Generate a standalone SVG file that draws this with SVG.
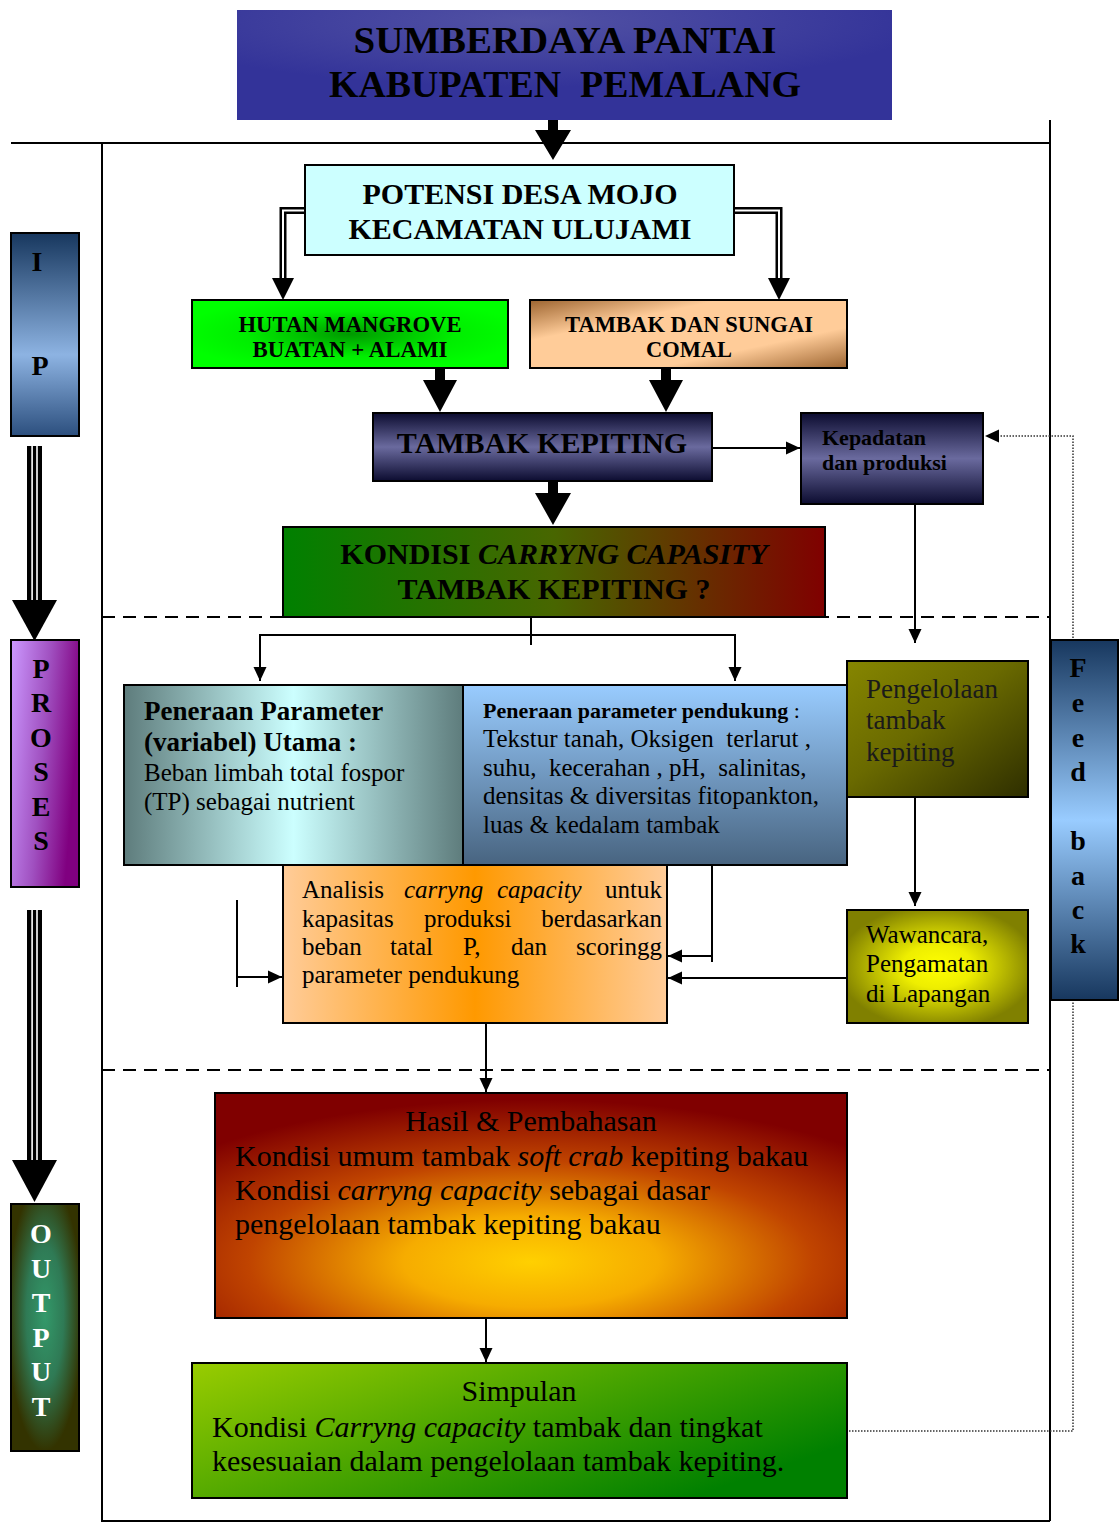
<svg xmlns="http://www.w3.org/2000/svg" width="1119" height="1522" viewBox="0 0 1119 1522">
<defs>
<style>
text{font-family:"Liberation Serif","Times New Roman",serif;fill:#000;white-space:pre}
.b{font-weight:bold}
.i{font-style:italic}
.box{stroke:#000;stroke-width:2}
.ln{fill:none;stroke:#000;stroke-width:2}
.dash{fill:none;stroke:#000;stroke-width:2;stroke-dasharray:13 8}
.fr{fill:none;stroke:#000;stroke-width:2}
.dot{fill:none;stroke:#333;stroke-width:1.5;stroke-dasharray:1.5 1.5}
.thick{fill:#000}
.mid{text-anchor:middle}
.end{text-anchor:end}
</style>
<marker id="ah" markerUnits="userSpaceOnUse" markerWidth="14" markerHeight="14" refX="14" refY="7" orient="auto">
<path d="M0,0.5 L14,7 L0,13.5 z" fill="#000"/>
</marker>
<radialGradient id="gTitle" cx="0.45" cy="0.1" r="0.6">
<stop offset="0" stop-color="#5252a4"/><stop offset="1" stop-color="#333399"/>
</radialGradient>
<radialGradient id="gHutan" cx="0.5" cy="0.5" r="0.55">
<stop offset="0" stop-color="#009900"/><stop offset="0.6" stop-color="#00ee00"/><stop offset="1" stop-color="#00ff00"/>
</radialGradient>
<linearGradient id="gSungai" x1="0" y1="0" x2="1" y2="1">
<stop offset="0" stop-color="#9c6430"/><stop offset="0.3" stop-color="#ffcc99"/><stop offset="0.7" stop-color="#ffcc99"/><stop offset="1" stop-color="#9c6430"/>
</linearGradient>
<linearGradient id="gNavy" x1="0" y1="0" x2="0" y2="1">
<stop offset="0" stop-color="#0c0c30"/><stop offset="0.5" stop-color="#6a6a9e"/><stop offset="1" stop-color="#0c0c30"/>
</linearGradient>
<linearGradient id="gKondisi" x1="0" y1="0" x2="1" y2="0">
<stop offset="0" stop-color="#008000"/><stop offset="0.5" stop-color="#486600"/><stop offset="1" stop-color="#800000"/>
</linearGradient>
<linearGradient id="gUtama" x1="0" y1="0" x2="1" y2="0">
<stop offset="0" stop-color="#5e7c7c"/><stop offset="0.5" stop-color="#ccffff"/><stop offset="1" stop-color="#5e7c7c"/>
</linearGradient>
<linearGradient id="gPendukung" x1="0" y1="0" x2="0" y2="1">
<stop offset="0" stop-color="#99ccff"/><stop offset="1" stop-color="#486480"/>
</linearGradient>
<linearGradient id="gKelola" x1="0" y1="0" x2="1" y2="1">
<stop offset="0" stop-color="#868600"/><stop offset="0.45" stop-color="#6a6a00"/><stop offset="1" stop-color="#2e2e00"/>
</linearGradient>
<radialGradient id="gWawan" cx="0.5" cy="0.5" r="0.55">
<stop offset="0" stop-color="#ffff00"/><stop offset="0.35" stop-color="#eeee00"/><stop offset="1" stop-color="#808000"/>
</radialGradient>
<linearGradient id="gAnalisis" x1="0" y1="0" x2="1" y2="0">
<stop offset="0" stop-color="#ffcc99"/><stop offset="0.5" stop-color="#ff9900"/><stop offset="1" stop-color="#ffcc99"/>
</linearGradient>
<radialGradient id="gHasil" cx="0.5" cy="0.75" r="0.72">
<stop offset="0" stop-color="#ffd000"/><stop offset="0.28" stop-color="#f6ac00"/><stop offset="0.62" stop-color="#c04400"/><stop offset="1" stop-color="#800000"/>
</radialGradient>
<linearGradient id="gSimpulan" x1="0" y1="0" x2="1" y2="0.6">
<stop offset="0" stop-color="#99cc00"/><stop offset="1" stop-color="#008000"/>
</linearGradient>
<linearGradient id="gFeed" x1="0" y1="0" x2="0" y2="1">
<stop offset="0" stop-color="#17375e"/><stop offset="0.5" stop-color="#99ccff"/><stop offset="1" stop-color="#17375e"/>
</linearGradient>
<linearGradient id="gIP" x1="0" y1="0" x2="0" y2="1">
<stop offset="0" stop-color="#17375e"/><stop offset="0.6" stop-color="#8db3e2"/><stop offset="1" stop-color="#2c4f7e"/>
</linearGradient>
<linearGradient id="gProses" x1="0" y1="0" x2="1" y2="0.3">
<stop offset="0" stop-color="#cc99ff"/><stop offset="0.55" stop-color="#a050c0"/><stop offset="1" stop-color="#800080"/>
</linearGradient>
<radialGradient id="gOutput" cx="0.5" cy="0.45" r="0.55">
<stop offset="0" stop-color="#33996a"/><stop offset="0.5" stop-color="#2f7a55"/><stop offset="1" stop-color="#333300"/>
</radialGradient>
</defs>

<g id="frame">
<path class="fr" d="M11,143 H1050"/>
<path class="fr" d="M102,143 V1522"/>
<path class="fr" d="M1050,120 V1521"/>
<path class="fr" d="M102,1521 H1050"/>
<path class="dash" d="M102,617 H1050"/>
<path class="dash" d="M102,1070 H1050"/>
</g>

<g id="connectors">
<path class="thick" d="M548,118 H558 V130 H571 L553,160 L535,130 H548 Z"/>
<path class="thick" d="M435,368 H445 V380 H457 L440,412 L423,380 H435 Z"/>
<path class="thick" d="M661,368 H671 V380 H683 L666,412 L649,380 H661 Z"/>
<path class="thick" d="M548,481 H558 V493 H571 L553,525 L535,493 H548 Z"/>
<path d="M305,210.5 H283 V280" fill="none" stroke="#000" stroke-width="7"/>
<path d="M305,210.5 H283 V280" fill="none" stroke="#fff" stroke-width="2"/>
<path class="thick" d="M272,278 H294 L283,300 Z"/>
<path d="M734,210.5 H779 V280" fill="none" stroke="#000" stroke-width="7"/>
<path d="M734,210.5 H779 V280" fill="none" stroke="#fff" stroke-width="2"/>
<path class="thick" d="M768,278 H790 L779,300 Z"/>
<rect x="27" y="446" width="15" height="156" fill="#000"/>
<rect x="31.3" y="446" width="1.6" height="156" fill="#fff"/>
<rect x="36.2" y="446" width="1.6" height="156" fill="#fff"/>
<path class="thick" d="M12,600 H57 L34.5,641 Z"/>
<rect x="27" y="910" width="15" height="252" fill="#000"/>
<rect x="31.3" y="910" width="1.6" height="252" fill="#fff"/>
<rect x="36.2" y="910" width="1.6" height="252" fill="#fff"/>
<path class="thick" d="M12,1160 H57 L34.5,1202 Z"/>
<path class="ln" d="M712,448 H800" marker-end="url(#ah)"/>
<path class="ln" d="M915,504 V643" marker-end="url(#ah)"/>
<path class="ln" d="M531,617 V645"/>
<path class="ln" d="M260,635 H735"/>
<path class="ln" d="M260,634 V681" marker-end="url(#ah)"/>
<path class="ln" d="M735,634 V681" marker-end="url(#ah)"/>
<path class="ln" d="M915,797 V906" marker-end="url(#ah)"/>
<path class="ln" d="M712,865 V962"/>
<path class="ln" d="M713,956 H668" marker-end="url(#ah)"/>
<path class="ln" d="M847,978 H668" marker-end="url(#ah)"/>
<path class="ln" d="M237,900 V987"/>
<path class="ln" d="M237,977 H282" marker-end="url(#ah)"/>
<path class="ln" d="M486,1023 V1092" marker-end="url(#ah)"/>
<path class="ln" d="M486,1318 V1362" marker-end="url(#ah)"/>
<path class="dot" d="M849,1431 H1073 V436 H996"/>
<path d="M985,436 L999,429.5 L999,442.5 Z" fill="#000"/>
</g>

<g id="node-title">
<rect x="237" y="10" width="655" height="110" fill="url(#gTitle)"/>
<text class="b mid" x="565" y="53" font-size="37" textLength="423" lengthAdjust="spacingAndGlyphs">SUMBERDAYA PANTAI</text>
<text class="b mid" x="565" y="97" font-size="37" textLength="472" lengthAdjust="spacingAndGlyphs">KABUPATEN  PEMALANG</text>
</g>

<g id="node-potensi">
<rect class="box" x="305" y="165" width="429" height="90" fill="#ccffff"/>
<text class="b mid" x="520" y="204" font-size="30">POTENSI DESA MOJO</text>
<text class="b mid" x="520" y="239" font-size="30">KECAMATAN ULUJAMI</text>
</g>

<g id="node-hutan">
<rect class="box" x="192" y="300" width="316" height="68" fill="url(#gHutan)"/>
<text class="b mid" x="350" y="332" font-size="24" textLength="223" lengthAdjust="spacingAndGlyphs">HUTAN MANGROVE</text>
<text class="b mid" x="350" y="357" font-size="24" textLength="195" lengthAdjust="spacingAndGlyphs">BUATAN + ALAMI</text>
</g>

<g id="node-sungai">
<rect class="box" x="530" y="300" width="317" height="68" fill="url(#gSungai)"/>
<text class="b mid" x="689" y="332" font-size="24" textLength="248" lengthAdjust="spacingAndGlyphs">TAMBAK DAN SUNGAI</text>
<text class="b mid" x="689" y="357" font-size="24" textLength="86" lengthAdjust="spacingAndGlyphs">COMAL</text>
</g>

<g id="node-tambak-kepiting">
<rect class="box" x="373" y="413" width="339" height="68" fill="url(#gNavy)"/>
<text class="b mid" x="542" y="453" font-size="30">TAMBAK KEPITING</text>
</g>

<g id="node-kepadatan">
<rect class="box" x="801" y="413" width="182" height="91" fill="url(#gNavy)"/>
<text class="b" x="822" y="445" font-size="22">Kepadatan</text>
<text class="b" x="822" y="470" font-size="22">dan produksi</text>
</g>

<g id="node-kondisi">
<rect class="box" x="283" y="527" width="542" height="90" fill="url(#gKondisi)"/>
<text class="b mid" x="554" y="564" font-size="30">KONDISI <tspan class="i">CARRYNG CAPASITY</tspan></text>
<text class="b mid" x="554" y="599" font-size="30">TAMBAK KEPITING ?</text>
</g>

<g id="node-utama">
<rect class="box" x="124" y="685" width="339" height="180" fill="url(#gUtama)"/>
<text class="b" x="144" y="720" font-size="27">Peneraan Parameter</text>
<text class="b" x="144" y="751" font-size="27">(variabel) Utama :</text>
<text x="144" y="781" font-size="25">Beban limbah total fospor</text>
<text x="144" y="810" font-size="25">(TP) sebagai nutrient</text>
</g>

<g id="node-pendukung">
<rect class="box" x="463" y="685" width="384" height="180" fill="url(#gPendukung)"/>
<text x="483" y="718" font-size="22"><tspan class="b">Peneraan parameter pendukung</tspan> :</text>
<text x="483" y="747" font-size="25">Tekstur tanah, Oksigen  terlarut ,</text>
<text x="483" y="776" font-size="25">suhu,  kecerahan , pH,  salinitas,</text>
<text x="483" y="804" font-size="25">densitas &amp; diversitas fitopankton,</text>
<text x="483" y="833" font-size="25">luas &amp; kedalam tambak</text>
</g>

<g id="node-pengelolaan">
<rect class="box" x="847" y="661" width="181" height="136" fill="url(#gKelola)"/>
<text x="866" y="698" font-size="27" style="fill:#1a1a1a">Pengelolaan</text>
<text x="866" y="729" font-size="27" style="fill:#1a1a1a">tambak</text>
<text x="866" y="761" font-size="27" style="fill:#1a1a1a">kepiting</text>
</g>

<g id="node-wawancara">
<rect class="box" x="847" y="910" width="181" height="113" fill="url(#gWawan)"/>
<text x="866" y="943" font-size="25">Wawancara,</text>
<text x="866" y="972" font-size="25">Pengamatan</text>
<text x="866" y="1002" font-size="25">di Lapangan</text>
</g>

<g id="node-analisis">
<rect class="box" x="283" y="865" width="384" height="158" fill="url(#gAnalisis)"/>
<text x="302" y="898" font-size="25">Analisis</text>
<text class="i" x="404" y="898" font-size="25">carryng</text>
<text class="i" x="497" y="898" font-size="25">capacity</text>
<text class="end" x="662" y="898" font-size="25">untuk</text>
<text x="302" y="926.5" font-size="25">kapasitas</text>
<text x="424" y="926.5" font-size="25">produksi</text>
<text class="end" x="662" y="926.5" font-size="25">berdasarkan</text>
<text x="302" y="955" font-size="25">beban</text>
<text x="390" y="955" font-size="25">tatal</text>
<text x="463" y="955" font-size="25">P,</text>
<text x="511" y="955" font-size="25">dan</text>
<text class="end" x="662" y="955" font-size="25">scoringg</text>
<text x="302" y="983" font-size="25">parameter pendukung</text>
</g>

<g id="node-hasil">
<rect class="box" x="215" y="1093" width="632" height="225" fill="url(#gHasil)"/>
<text class="mid" x="531" y="1131" font-size="30">Hasil &amp; Pembahasan</text>
<text x="235" y="1166" font-size="30">Kondisi umum tambak <tspan class="i">soft crab</tspan> kepiting bakau</text>
<text x="235" y="1200" font-size="30">Kondisi <tspan class="i">carryng capacity</tspan> sebagai dasar</text>
<text x="235" y="1234" font-size="30">pengelolaan tambak kepiting bakau</text>
</g>

<g id="node-simpulan">
<rect class="box" x="192" y="1363" width="655" height="135" fill="url(#gSimpulan)"/>
<text class="mid" x="519" y="1401" font-size="30">Simpulan</text>
<text x="212" y="1437" font-size="30">Kondisi <tspan class="i">Carryng capacity</tspan> tambak dan tingkat</text>
<text x="212" y="1471" font-size="30">kesesuaian dalam pengelolaan tambak kepiting.</text>
</g>

<g id="node-feedback">
<rect class="box" x="1051" y="640" width="67" height="360" fill="url(#gFeed)"/>
<text class="b mid" x="1078" y="677" font-size="28">F</text>
<text class="b mid" x="1078" y="712" font-size="28">e</text>
<text class="b mid" x="1078" y="747" font-size="28">e</text>
<text class="b mid" x="1078" y="781" font-size="28">d</text>
<text class="b mid" x="1078" y="850" font-size="28">b</text>
<text class="b mid" x="1078" y="885" font-size="28">a</text>
<text class="b mid" x="1078" y="919" font-size="28">c</text>
<text class="b mid" x="1078" y="953" font-size="28">k</text>
</g>

<g id="node-ip">
<rect class="box" x="11" y="233" width="68" height="203" fill="url(#gIP)"/>
<text class="b mid" x="37" y="271" font-size="28">I</text>
<text class="b mid" x="40" y="375" font-size="28">P</text>
</g>

<g id="node-proses">
<rect class="box" x="11" y="640" width="68" height="247" fill="url(#gProses)"/>
<text class="b mid" x="41" y="678" font-size="28">P</text>
<text class="b mid" x="41" y="712" font-size="28">R</text>
<text class="b mid" x="41" y="747" font-size="28">O</text>
<text class="b mid" x="41" y="781" font-size="28">S</text>
<text class="b mid" x="41" y="816" font-size="28">E</text>
<text class="b mid" x="41" y="850" font-size="28">S</text>
</g>

<g id="node-output">
<rect class="box" x="11" y="1204" width="68" height="247" fill="url(#gOutput)"/>
<text class="b mid" x="41" y="1243" font-size="28" style="fill:#fff">O</text>
<text class="b mid" x="41" y="1278" font-size="28" style="fill:#fff">U</text>
<text class="b mid" x="41" y="1312" font-size="28" style="fill:#fff">T</text>
<text class="b mid" x="41" y="1347" font-size="28" style="fill:#fff">P</text>
<text class="b mid" x="41" y="1381" font-size="28" style="fill:#fff">U</text>
<text class="b mid" x="41" y="1416" font-size="28" style="fill:#fff">T</text>
</g>
</svg>
